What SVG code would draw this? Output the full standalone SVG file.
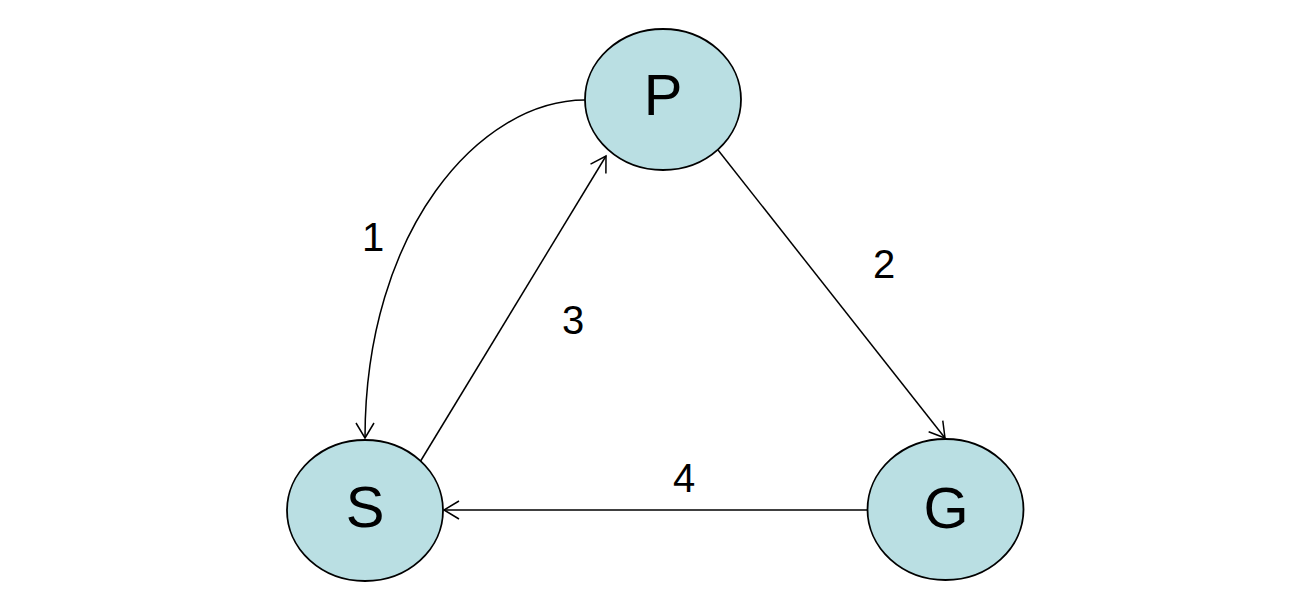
<svg xmlns="http://www.w3.org/2000/svg" width="1315" height="607" viewBox="0 0 1315 607">
<defs>
<style>
.node{fill:#badfe3;stroke:#000;stroke-width:1.8}
.nlabel{font-family:"Liberation Sans",Arial,sans-serif;font-size:58px;fill:#000;text-anchor:middle}
.elabel{font-family:"Liberation Sans",Arial,sans-serif;font-size:40px;fill:#000;text-anchor:middle}
.edge{fill:none;stroke:#000;stroke-width:1.5;marker-end:url(#arr)}
</style>
<marker id="arr" markerUnits="userSpaceOnUse" markerWidth="20" markerHeight="22" viewBox="-17 -11 19 22" refX="0" refY="0" orient="auto">
<path d="M-15,-9 L0,0 L-15,9" fill="none" stroke="#000" stroke-width="1.5"/>
</marker>
</defs>
<rect width="1315" height="607" fill="#fff"/>
<g id="edges">
<path class="edge" d="M585,100 C480,100 365,230 365,438"/>
<path class="edge" d="M420,462 L606,156"/>
<path class="edge" d="M718,150 L945,438"/>
<path class="edge" d="M867,510 L444,510"/>
<text class="elabel" x="373" y="251">1</text>
<text class="elabel" x="884" y="278">2</text>
<text class="elabel" x="573" y="334">3</text>
<text class="elabel" x="684" y="492">4</text>
</g>
<g id="node-P">
<ellipse class="node" cx="663" cy="99.5" rx="78" ry="70.5"/>
<text class="nlabel" x="663" y="115">P</text>
</g>
<g id="node-S">
<ellipse class="node" cx="365" cy="510.5" rx="78" ry="70.5"/>
<text class="nlabel" x="365" y="527">S</text>
</g>
<g id="node-G">
<ellipse class="node" cx="945.5" cy="509.5" rx="78" ry="70.5"/>
<text class="nlabel" x="946" y="528">G</text>
</g>
</svg>
